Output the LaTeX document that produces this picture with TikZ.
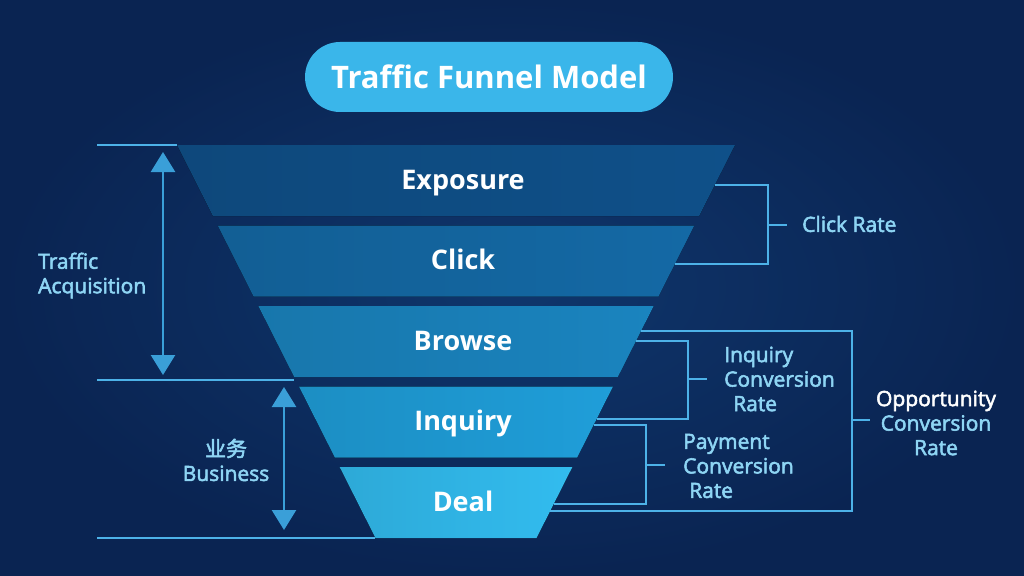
\documentclass[tikz,border=0pt]{standalone}
\usepackage{fontspec}
\setmainfont{Open Sans}
\newfontfamily\semib[FakeBold=2.5]{Open Sans}
\newfontfamily\cjk[FakeBold=2.5]{Noto Sans CJK SC}
\usetikzlibrary{arrows.meta}

\definecolor{bgin}{HTML}{0F366C}
\definecolor{bgout}{HTML}{0A2452}
\definecolor{bandA}{HTML}{0F5089}
\definecolor{bandB}{HTML}{1469A5}
\definecolor{bandC}{HTML}{1A84BF}
\definecolor{bandD}{HTML}{1F9ED9}
\definecolor{bandE}{HTML}{32BCEF}
\definecolor{rule}{HTML}{4DB2E8}
\definecolor{arrowc}{HTML}{3A9FD8}
\definecolor{soft}{HTML}{8ED5F4}
\definecolor{pill}{HTML}{3AB6EA}

\begin{document}
\begin{tikzpicture}[x=1pt,y=-1pt,
  declare function={redge(\y)=735-0.505*(\y-145);},
  bandlabel/.style={text=white,font=\bfseries\fontsize{27}{30}\selectfont,inner sep=0pt,anchor=base},
  sidelabel/.style={text=soft,font=\semib\fontsize{21}{24.5}\selectfont,inner sep=0pt},
  bracket/.style={draw=rule,line width=1.7pt},
  span/.style={draw=arrowc,line width=2.5pt,{Triangle[width=24pt,length=20pt]}-{Triangle[width=24pt,length=20pt]}}]

\useasboundingbox (0,0) rectangle (1024,575);
\shade[inner color=bgin, outer color=bgout] (0,0) rectangle (1024,575);

% Titulo
\node[fill=pill, rounded corners=35pt, minimum width=368pt, minimum height=70pt,
      text=white, font=\bfseries\fontsize{31}{34}\selectfont] (title) at (489,77) {Traffic Funnel Model};

% Embudo
	\foreach \name/\col [count=\i from 0] in {Exposure/bandA, Click/bandB, Browse/bandC, Inquiry/bandD, Deal/bandE} {
		\pgfmathsetmacro\yt{145+80.5*\i}
		\pgfmathsetmacro\yb{\yt+71}
		\pgfmathsetmacro\xt{177+0.505*(\yt-145)}
		\pgfmathsetmacro\xb{177+0.505*(\yb-145)}
		\fill[left color=\col!90!black, right color=\col] (\xt,\yt) -- (912-\xt,\yt) -- (912-\xb,\yb) -- (\xb,\yb) -- cycle;
		\node[bandlabel] (band\i) at (463,\yt+44) {\name};
	}

% Escala izquierda
	\coordinate (g1) at (97,145);  \coordinate (f1) at (177,145);
	\coordinate (g2) at (97,380);  \coordinate (f2) at (294,380);
	\coordinate (g3) at (97,538);  \coordinate (f3) at (375,538);
	\draw[bracket] (g1) -- (f1);
	\draw[bracket] (g2) -- (f2);
	\draw[bracket] (g3) -- (f3);

	\coordinate (a1) at (163,152); \coordinate (a2) at (163,375);
	\coordinate (b1) at (284,387); \coordinate (b2) at (284,530);
	\draw[span] (a1) -- (a2);
	\draw[span] (b1) -- (b2);

	\node[sidelabel, anchor=west, align=left] (acq) at (38,275.5) {Traffic\\Acquisition};
	\node[sidelabel, align=center] (biz) at (226,460) {{\cjk 业务}\\Business};

% Tasas a la derecha
	\coordinate (c1) at ({redge(185)},185);  \coordinate (c2) at ({redge(264)},264);
	\coordinate (i1) at ({redge(341)},341);  \coordinate (i2) at ({redge(419)},419);
	\coordinate (p1) at ({redge(425)},425);  \coordinate (p2) at ({redge(504)},504);
	\coordinate (o1) at ({redge(331)},331);  \coordinate (o2) at ({redge(511)},511);

	\draw[bracket] (c1) -- (768,185) -- (768,264) -- (c2);
	\draw[bracket] (768,225) -- +(19,0);
	\node[sidelabel, anchor=west] (click) at (802,224) {Click Rate};

	\draw[bracket] (o1) -- (852,331) -- (852,511) -- (o2);
	\draw[bracket] (852,420) -- +(18,0);
	\node[sidelabel, align=center] (opp) at (936,423) {\textcolor{white}{Opportunity}\\Conversion\\Rate};

	\draw[bracket] (i1) -- (688,341) -- (688,419) -- (i2);
	\draw[bracket] (688,379) -- +(19,0);
	\node[sidelabel, anchor=west, align=left] (inq) at (724,379) {Inquiry\\Conversion\\\hspace{9pt}Rate};

	\draw[bracket] (p1) -- (646,425) -- (646,504) -- (p2);
	\draw[bracket] (646,465) -- +(19,0);
	\node[sidelabel, anchor=west, align=left] (pay) at (683,466) {Payment\\Conversion\\\hspace{6pt}Rate};
\end{tikzpicture}
\end{document}
